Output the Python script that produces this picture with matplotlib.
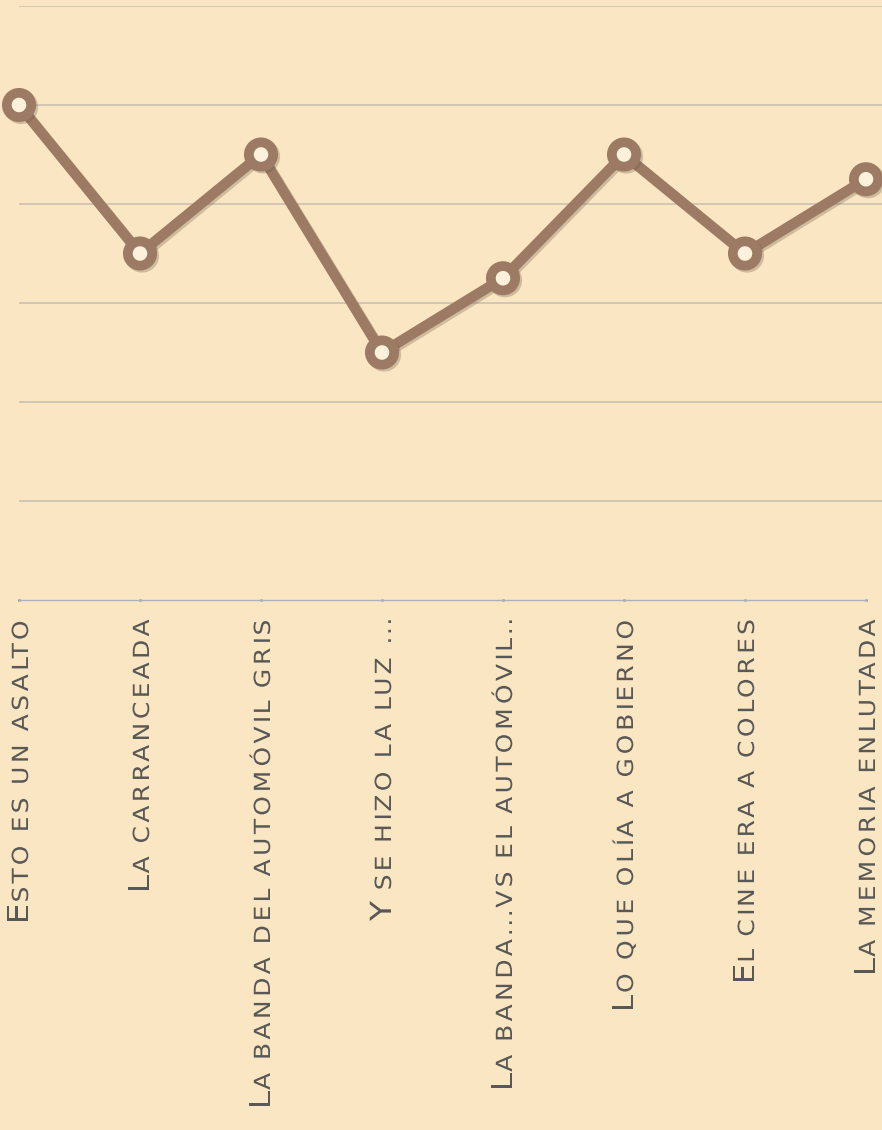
import matplotlib
matplotlib.use("Agg")
import numpy as np
import matplotlib.pyplot as plt
import matplotlib.patheffects as pe
from matplotlib.path import Path
from matplotlib.transforms import offset_copy

categories = ["Esto es un asalto", "La carranceada", "La banda del automóvil gris",
              "Y se hizo la luz ...", "La banda...vs el automóvil..",
              "Lo que olía a gobierno", "El cine era a colores", "La memoria enlutada"]
values = [5.0, 3.5, 4.5, 2.5, 3.25, 4.5, 3.5, 4.25]
grid_levels = [1, 2, 3, 4, 5, 6]

BG = "#fbe6c3"
LINE = "#9c7a63"
TEXT = "#585856"


class Tracking(pe.AbstractPathEffect):
    """Widen glyphs slightly and spread them apart along the text direction."""

    def __init__(self, stretch, factor):
        super().__init__()
        self.stretch = stretch
        self.factor = factor

    def draw_path(self, renderer, gc, tpath, affine, rgbFace=None):
        codes = tpath.codes
        if codes is None or len(tpath.vertices) == 0:
            renderer.draw_path(gc, tpath, affine, rgbFace)
            return
        verts = np.array(tpath.vertices, dtype=float)
        verts[:, 0] *= self.stretch
        starts = list(np.where(codes == Path.MOVETO)[0]) + [len(verts)]
        for a, b in zip(starts[:-1], starts[1:]):
            seg = verts[a:b, 0]
            seg_valid = seg[np.isfinite(seg)]
            if len(seg_valid):
                verts[a:b, 0] += (self.factor - 1.0) * seg_valid.min()
        renderer.draw_path(gc, Path(verts, codes), affine, rgbFace)


W, H = 882, 1130
fig = plt.figure(figsize=(W / 100, H / 100), dpi=100)
fig.patch.set_facecolor(BG)

left = 19 / W
ax = fig.add_axes([left, (H - 600) / H, 1 - left, 594 / H])
ax.set_facecolor("none")
x = list(range(len(categories)))
ax.set_xlim(0, (W - 19) / 121.0)
ax.set_ylim(0, 6)

for g in grid_levels:
    ax.axhline(g, color="#c9c1b2", lw=1.2, zorder=1)

for s in ["top", "right", "left"]:
    ax.spines[s].set_visible(False)
ax.spines["bottom"].set_color("#a9b3bf")
ax.spines["bottom"].set_linewidth(1.0)
ax.spines["bottom"].set_bounds(0, len(categories) - 1)
ax.set_yticks([])
ax.set_xticks(x)
ax.set_xticklabels([])
ax.tick_params(axis="x", length=2, width=2, color="#7d8ea3", direction="inout")

ax.plot(x, values, color=LINE, lw=7.5, marker="o", ms=17.5, mew=7.0,
        mfc="#fdf1dc", mec=LINE, solid_joinstyle="round", clip_on=False, zorder=5,
        path_effects=[pe.SimpleLineShadow(offset=(1.5, -1.5), shadow_color="#6b5a4a", alpha=0.3),
                      pe.Normal()])

# small-caps style labels: big first letter, smaller rest, rotated 90, ending just below axis
fig.canvas.draw()
renderer = fig.canvas.get_renderer()
fam = ["DejaVu Sans"]
STRETCH = 1.12
TRACK = 1.20
TOP_GAP = 22     # px from axis line to end of label
BASE_DX = 9      # px from tick to baseline
base = ax.get_xaxis_transform()
for i, lab in enumerate(categories):
    first, rest = lab[0].upper(), lab[1:].upper()
    probe = ax.text(i, 0, rest, rotation=90, rotation_mode="anchor", ha="left", va="baseline",
                    fontsize=16, family=fam, transform=base)
    length = probe.get_window_extent(renderer).height
    probe.remove()
    start = TOP_GAP + STRETCH * TRACK * length - 6
    ax.text(i, 0, rest, rotation=90, rotation_mode="anchor", ha="left", va="baseline",
            fontsize=16, color=TEXT, family=fam, path_effects=[Tracking(STRETCH, TRACK)],
            transform=offset_copy(base, fig=fig, x=BASE_DX, y=-start, units="dots"))
    ax.text(i, 0, first, rotation=90, rotation_mode="anchor", ha="right", va="baseline",
            fontsize=21, color=TEXT, family=fam, path_effects=[Tracking(STRETCH, 1.0)],
            transform=offset_copy(base, fig=fig, x=BASE_DX, y=-start - 5 + (STRETCH - 1) * 14,
                                  units="dots"))

fig.savefig("out.png", dpi=100, facecolor=BG)
